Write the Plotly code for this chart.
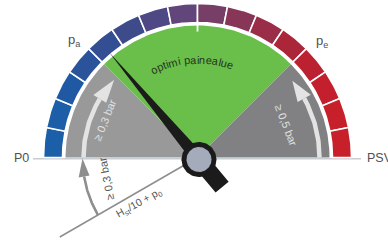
import numpy as np
import plotly.graph_objects as go

# ---------------- data ----------------
scale_steps = 16                      # ring segments between P0 and PSV
segment_colors = ["#1b5fa9", "#1c5ea8", "#2059a3", "#2a539b", "#334e92", "#3e4b8b",
                  "#4e4885", "#62467b", "#773f67", "#883657", "#9a2d47", "#ac2639",
                  "#bb2130", "#c31f2c", "#c7202a", "#c8202a"]
p_a_step = 4          # start of optimal zone (steps from P0)
p_e_step = 12         # end of optimal zone
needle_step = 4.45    # needle position
zone_colors = ["#999999", "#6abf4b", "#818183"]
end_labels = ["P0", "PSV"]
zone_labels = ["p<sub>a</sub>", "p<sub>e</sub>"]
optimum_label = "optimi painealue"
margin_labels = ["≥ 0,3 bar", "≥ 0,5 bar", "≥ 0,3 bar"]
static_label = "H<sub>st</sub>/10 + p<sub>0</sub>"
static_angle = 210    # inclination of the static-head line (deg)

# ---------------- geometry helpers ----------------
CX, CY = 197.5, 157.5
W, H = 388, 241
R_OUT, R_IN, R_SECT = 154, 135, 132


def ang(step):
    return 180.0 - step * 180.0 / scale_steps


def pol(r, t, ox=0.0, oy=0.0):
    t = np.radians(t)
    return ox + r * np.cos(t), oy + r * np.sin(t)


def arc(r, t0, t1, n=60):
    t = np.linspace(t0, t1, n)
    return pol(r, t)


fig = go.Figure()


def poly(xs, ys, color, lw=0, lc=None):
    fig.add_trace(go.Scatter(x=list(xs), y=list(ys), mode="lines", fill="toself",
                             fillcolor=color, line=dict(width=lw, color=lc or color),
                             hoverinfo="skip", showlegend=False))


def line(xs, ys, color, lw):
    fig.add_trace(go.Scatter(x=list(xs), y=list(ys), mode="lines",
                             line=dict(width=lw, color=color),
                             hoverinfo="skip", showlegend=False))


# baseline P0 - PSV
line([-164.5, 163.5], [-1.2, -1.2], "#c8cdd2", 1.6)

# ring segments
for i in range(scale_steps):
    t0, t1 = ang(i), ang(i + 1)
    xo, yo = arc(R_OUT, t0, t1, 20)
    xi, yi = arc(R_IN, t1, t0, 20)
    poly(np.r_[xo, xi, xo[:1]], np.r_[yo, yi, yo[:1]], segment_colors[i], 1.6, "white")

# zone sectors
bounds = [0, p_a_step, p_e_step, scale_steps]
for k in range(3):
    xa, ya = arc(R_SECT, ang(bounds[k]), ang(bounds[k + 1]), 60)
    poly(np.r_[0, xa, 0], np.r_[0, ya, 0], zone_colors[k])

# tick at middle of scale
xt, yt = pol(np.array([126, R_IN + 1]), ang(scale_steps / 2))
line(xt, yt, "white", 1.8)


def arrow(r, t_start, t_base, t_tip, head_w, color, lw):
    xa, ya = arc(r, t_start, t_base, 40)
    line(xa, ya, color, lw)
    x1, y1 = pol(r - head_w / 2, t_base)
    x2, y2 = pol(r + head_w / 2, t_base)
    x3, y3 = pol(r, t_tip)
    poly([x1, x2, x3, x1], [y1, y2, y3, y1], color)


arrow(114, 180, 149, 137, 15, "#e3e3e3", 4.5)
arrow(122, 0, 29, 39, 15, "#e3e3e3", 4.5)

# static head line and its margin arrow
xs_, ys_ = pol(np.array([16, 159]), static_angle)
line(xs_, ys_, "#8e8e8e", 1.5)
arrow(115, static_angle, 189.5, 180.5, 11, "#8e8e8e", 2.6)

# needle
PX, PY = 1.5, -2.0
tn = ang(needle_step)
tip = pol(140, tn, PX, PY)
b1 = pol(6.5, tn + 90, PX, PY)
b2 = pol(6.5, tn - 90, PX, PY)
poly([tip[0], b1[0], b2[0], tip[0]], [tip[1], b1[1], b2[1], tip[1]], "#1b1b1b")
# counter-weight tail
tail_c = pol(36, tn + 180, PX, PY)
s1 = pol(8.5, tn + 90, PX, PY)
s2 = pol(8.5, tn - 90, PX, PY)
t1 = pol(8.5, tn + 90, tail_c[0], tail_c[1])
t2 = pol(8.5, tn - 90, tail_c[0], tail_c[1])
poly([s1[0], t1[0], t2[0], s2[0], s1[0]], [s1[1], t1[1], t2[1], s2[1], s1[1]], "#1b1b1b")

# hub
hx, hy = arc(17.5, 0, 360, 80)
poly(hx + PX, hy + PY, "#1b1b1b")
hx, hy = arc(12.5, 0, 360, 80)
poly(hx + PX, hy + PY, "#a4acbc")

# ---------------- texts ----------------
ann = []
FONT = "Liberation Sans"
grey = "#505050"


def text(x, y, s, size, color, angle=0, xa="center", ya="middle"):
    ann.append(dict(x=x, y=y, xref="x", yref="y", text=s, showarrow=False,
                    textangle=angle, xanchor=xa, yanchor=ya,
                    font=dict(family=FONT, size=size, color=color)))


# zone labels
for step, lab, d in zip([p_a_step, p_e_step], zone_labels, [1.5, -2.0]):
    x, y = pol(170, ang(step) + d)
    text(x, y, lab, 13, grey)

# end labels
text(-167, -0.5, end_labels[0], 12.5, grey, xa="right")
text(167.5, -0.5, end_labels[1], 12.5, grey, xa="left")

# margin labels
x, y = pol(100, 158)
text(x, y, margin_labels[0], 11, "#e0e0e0", -68)
x, y = pol(94, 20)
text(x, y, margin_labels[1], 11, "#e0e0e0", 69)
x, y = pol(94, 193)
text(x, y, margin_labels[2], 11, "#555555", -101)
x, y = pol(74, 217.9)
text(x, y, static_label, 10.5, "#555555", -29)

# curved optimum label
widths = {"o": 556, "p": 556, "t": 278, "i": 222, "m": 833, " ": 278, "a": 556,
          "n": 556, "e": 556, "l": 222, "u": 556}
fs, track, r_txt, t_mid = 11, 1.07, 98, 93.5
w = np.array([widths.get(c, 556) for c in optimum_label]) * fs / 1000 * track
cum = np.cumsum(w) - w / 2
total = w.sum()
for c, m in zip(optimum_label, cum):
    if c == " ":
        continue
    t = t_mid + np.degrees((total / 2 - m) / r_txt)
    x, y = pol(r_txt, t)
    text(x, y, c, fs, "#24361e", 90 - t)

fig.update_layout(
    width=W, height=H, autosize=False,
    margin=dict(l=0, r=0, t=0, b=0),
    paper_bgcolor="white", plot_bgcolor="white",
    xaxis=dict(range=[-CX, W - CX], visible=False, fixedrange=True),
    yaxis=dict(range=[CY - H, CY], visible=False, fixedrange=True),
    annotations=ann, showlegend=False,
)
fig.write_html("out.html", config={"displayModeBar": False},
               post_script="document.body.style.margin='0';")
